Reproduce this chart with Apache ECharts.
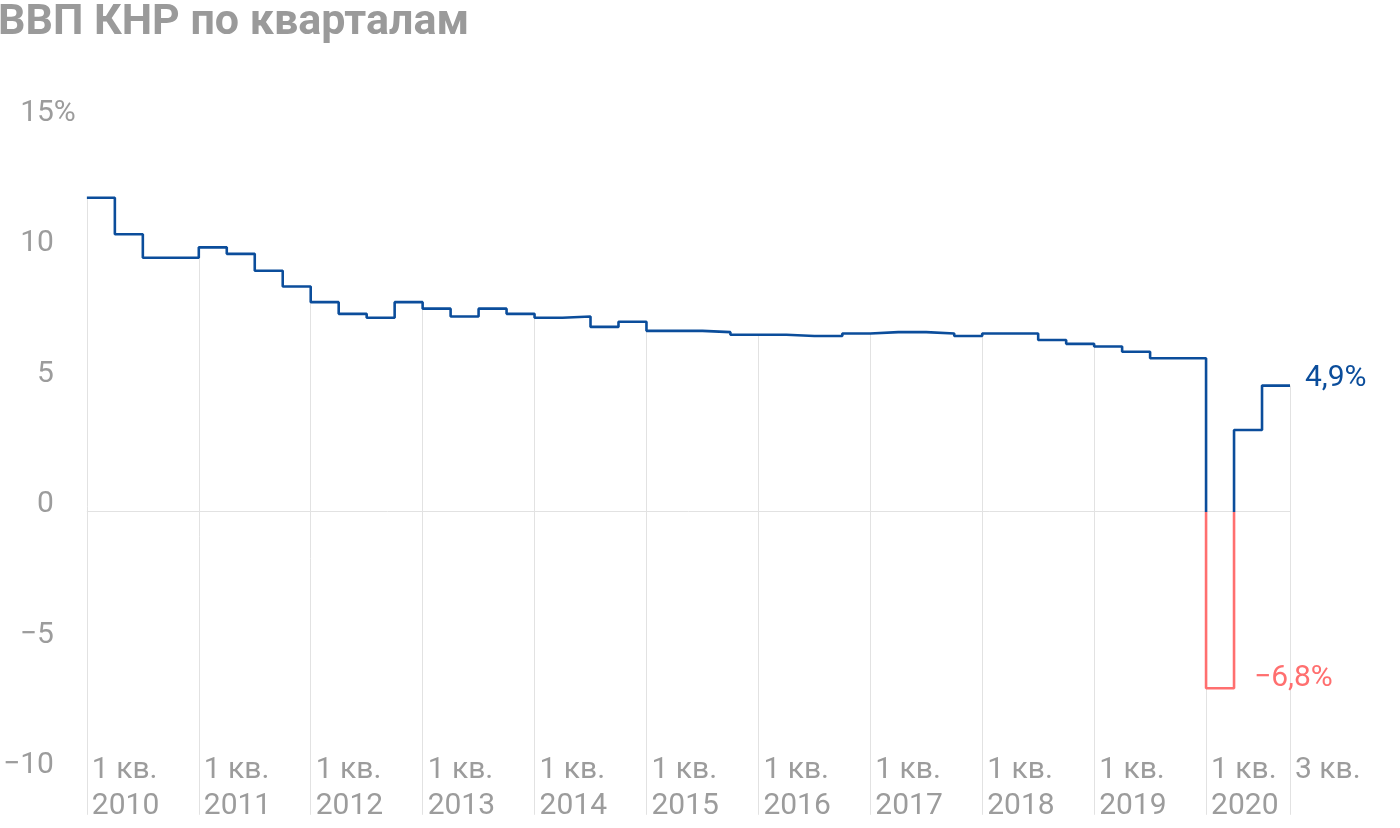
<!DOCTYPE html>
<html>
<head>
<meta charset="utf-8">
<script src="https://cdn.jsdelivr.net/npm/echarts@6/dist/echarts.min.js"></script>
<style>
html,body{margin:0;padding:0;background:#fff;}
#chart{width:1400px;height:828px;}
</style>
</head>
<body>
<div id="chart"></div>
<script>
// ---- data (YoY GDP growth by quarter, %), 2010 Q1 .. 2020 Q3 ----
const gdp2010 = [12.0, 10.6, 9.7, 9.7];
const gdp2011 = [10.1, 9.85, 9.2, 8.6];
const gdp2012 = [8.0, 7.55, 7.4, 8.0];
const gdp2013 = [7.75, 7.45, 7.75, 7.55];
const gdp2014 = [7.4, 7.45, 7.05, 7.25];
const gdp2015 = [6.9, 6.9, 6.85, 6.75];
const gdp2016 = [6.75, 6.7, 6.7, 6.8];
const gdp2017 = [6.85, 6.85, 6.8, 6.7];
const gdp2018 = [6.8, 6.8, 6.55, 6.4];
const gdp2019 = [6.3, 6.1, 5.85, 5.85];
const gdp2020 = [-6.8, 3.1, 4.8];

const years = [2010, 2011, 2012, 2013, 2014, 2015, 2016, 2017, 2018, 2019, 2020];
const xTickLabels = ['1 кв.\n2010','1 кв.\n2011','1 кв.\n2012','1 кв.\n2013','1 кв.\n2014','1 кв.\n2015',
                     '1 кв.\n2016','1 кв.\n2017','1 кв.\n2018','1 кв.\n2019','1 кв.\n2020','3 кв.\n '];
const yTickValues = [-10, -5, 0, 5, 10, 15];
const annotationTexts = ['4,9%', '−6,8%'];

// ---- build ----
const values = [].concat(gdp2010, gdp2011, gdp2012, gdp2013, gdp2014, gdp2015,
                         gdp2016, gdp2017, gdp2018, gdp2019, gdp2020);
const N = values.length; // 43 quarters
const Y_MIN = -11.65, Y_MAX = 15;
// step points at quarter starts + closing point at end of the last quarter
const stepData = values.map((v, i) => [i, v]);
stepData.push([N, values[N - 1]]);

const xTickIdx = years.map((y, k) => k * 4).concat([N]);

const BLUE = '#0b4d9b';
const RED = '#ff6f6f';
const GRID = '#e2e2e2';
const LABEL = '#9c9c9c';
const FONT = 'Roboto, "Noto Sans", sans-serif';

// vertical drop lines at each year start and at the end of the series
const dropLines = xTickIdx.map(i => {
  const a = i > 0 ? values[i - 1] : values[0];
  const b = i < N ? values[i] : values[N - 1];
  return [{coord: [i, Math.min(a, b)]}, {coord: [i, Y_MIN]}];
});

// line colour: blue above zero, red below (hard stop at the zero level of the path's extent)
const vMax = Math.max.apply(null, values), vMin = Math.min.apply(null, values);
const zeroStop = vMax / (vMax - vMin);
const lineColor = new echarts.graphic.LinearGradient(0, 0, 0, 1, [
  {offset: 0, color: BLUE}, {offset: zeroStop, color: BLUE},
  {offset: zeroStop, color: RED}, {offset: 1, color: RED}
]);

const chart = echarts.init(document.getElementById('chart'), null, {renderer: 'canvas'});
chart.setOption({
  animation: false,
  backgroundColor: '#fff',
  title: {
    text: 'ВВП КНР по кварталам',
    left: -2, top: 2, padding: 0,
    textStyle: {fontFamily: FONT, fontSize: 43, fontWeight: 'bold', color: '#9a9a9a'}
  },
  grid: {left: 85, top: 119.5, width: 1205, height: 695.3, containLabel: false},
  xAxis: {
    type: 'value', min: 0, max: N, interval: 4,
    axisLine: {show: false}, axisTick: {show: false}, splitLine: {show: false},
    axisLabel: {
      customValues: xTickIdx,
      showMinLabel: true, showMaxLabel: true,
      formatter: v => { const k = xTickIdx.indexOf(v); return k >= 0 ? xTickLabels[k] : ''; },
      align: 'left', verticalAlign: 'bottom', margin: 10, lineHeight: 36,
      padding: [0, 0, 0, 5],
      fontFamily: FONT, fontSize: 30, color: LABEL
    }
  },
  yAxis: [
    {
      type: 'value', min: Y_MIN, max: Y_MAX,
      axisLine: {show: false}, axisTick: {show: false}, splitLine: {show: false},
      axisLabel: {
        customValues: yTickValues,
        showMinLabel: true, showMaxLabel: true,
        formatter: v => yTickValues.indexOf(v) < 0 ? '' : (v < 0 ? '−' : '') + Math.abs(v),
        align: 'right', verticalAlign: 'bottom', lineHeight: 12, margin: 33,
        fontFamily: FONT, fontSize: 30, color: LABEL
      }
    },
    {
      type: 'value', min: Y_MIN, max: Y_MAX, position: 'left',
      axisLine: {show: false}, axisTick: {show: false}, splitLine: {show: false},
      axisLabel: {
        customValues: [Y_MAX],
        showMinLabel: true, showMaxLabel: true,
        formatter: v => v === Y_MAX ? '%' : '',
        align: 'left', verticalAlign: 'bottom', lineHeight: 12, margin: 33,
        fontFamily: FONT, fontSize: 30, color: LABEL
      }
    }
  ],
  series: [
    {
      name: 'ВВП', type: 'line', step: 'end', data: stepData, z: 5,
      showSymbol: false, symbol: 'none', silent: true,
      lineStyle: {width: 2.6, color: lineColor}
    },
    {
      name: 'guides', type: 'line', data: stepData, z: 1, silent: true,
      showSymbol: false, symbol: 'none',
      lineStyle: {opacity: 0},
      markLine: {
        silent: true, symbol: 'none', animation: false,
        label: {show: false},
        lineStyle: {color: GRID, width: 1, type: 'solid'},
        data: dropLines.concat([{yAxis: 0}])
      },
      markPoint: {
        silent: true, symbol: 'circle', symbolSize: 0, animation: false,
        data: [
          {coord: [N, values[N - 1]], value: annotationTexts[0],
           label: {show: true, formatter: annotationTexts[0], position: 'right', distance: 15, offset: [0, -7],
                   fontFamily: FONT, fontSize: 30, color: BLUE}},
          {coord: [N - 2, values[N - 3]], value: annotationTexts[1],
           label: {show: true, formatter: annotationTexts[1], position: 'right', distance: 20, offset: [0, -10],
                   fontFamily: FONT, fontSize: 30, color: RED}}
        ]
      }
    }
  ]
});
</script>
</body>
</html>
